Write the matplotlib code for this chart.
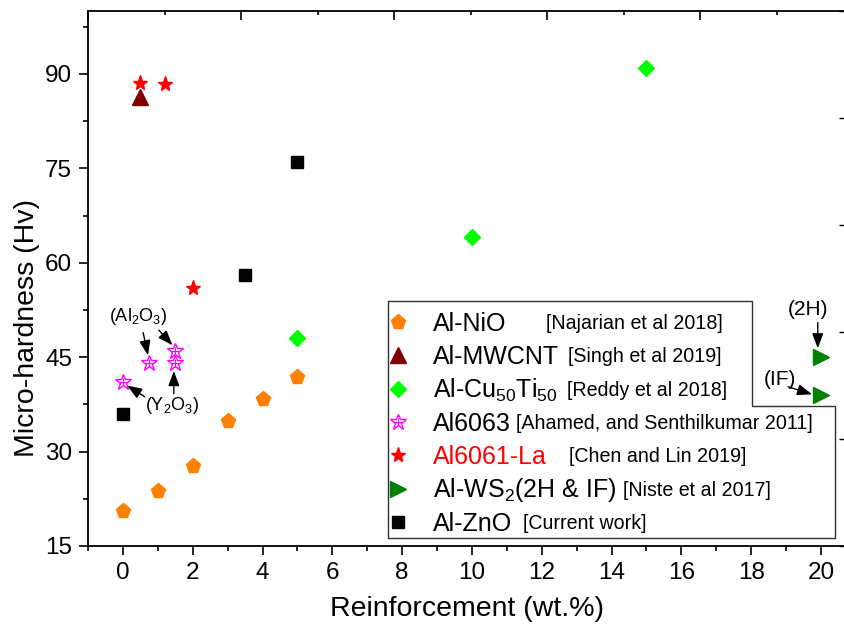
import matplotlib
matplotlib.use('Agg')
import matplotlib.pyplot as plt
from matplotlib.ticker import MultipleLocator, FixedLocator
from matplotlib.patches import Polygon

plt.rcParams['font.family'] = ['Liberation Sans', 'DejaVu Sans']
plt.rcParams['mathtext.fontset'] = 'custom'
plt.rcParams['mathtext.rm'] = 'Liberation Sans'
plt.rcParams['mathtext.it'] = 'Liberation Sans:italic'
plt.rcParams['mathtext.bf'] = 'Liberation Sans:bold'
plt.rcParams['mathtext.default'] = 'regular'

# ---------------- data ----------------
nio_x = [0, 1, 2, 3, 4, 5]
nio_y = [20.6, 23.7, 27.7, 34.9, 38.4, 41.8]
mwcnt_x = [0.5]
mwcnt_y = [86.3]
cuti_x = [5, 10, 15]
cuti_y = [48.1, 64.1, 91.0]
al6063_x = [0, 0.75, 1.5, 1.5]
al6063_y = [41.0, 44.0, 44.0, 46.0]
la_x = [0.5, 1.2, 2]
la_y = [88.5, 88.4, 56.0]
ws2_x = [20, 20]
ws2_y = [45.0, 39.0]
zno_x = [0, 3.5, 5]
zno_y = [36.0, 58.0, 76.0]

series_names = ['Al-NiO', 'Al-MWCNT', 'Al-Cu$_{50}$Ti$_{50}$', 'Al6063',
                'Al6061-La', 'Al-WS$_2$(2H & IF)', 'Al-ZnO']
citations = ['[Najarian et al 2018]', '[Singh et al 2019]', '[Reddy et al 2018]',
             '[Ahamed, and Senthilkumar 2011]', '[Chen and Lin 2019]',
             '[Niste et al 2017]', '[Current work]']
x_ticks = [0, 2, 4, 6, 8, 10, 12, 14, 16, 18, 20]
y_ticks = [15, 30, 45, 60, 75, 90]
x_label = 'Reinforcement (wt.%)'
y_label = 'Micro-hardness (Hv)'

# ---------------- styles ----------------
styles = [
    dict(marker='p', color='#FF8000', ms=11, mec='#FF8000'),
    dict(marker='^', color='#800000', ms=11, mec='#800000'),
    dict(marker='D', color='#00FF00', ms=8, mec='#00FF00'),
    dict(marker='*', color='#FF00FF', ms=12, mfc='none', mec='#FF00FF', mew=1.0),
    dict(marker='*', color='#FF0000', ms=11, mec='#FF0000'),
    dict(marker='>', color='#008000', ms=11, mec='#008000'),
    dict(marker='s', color='#000000', ms=8, mec='#000000'),
]
label_colors = ['black', 'black', 'black', 'black', '#FF0000', 'black', 'black']
series_x = [nio_x, mwcnt_x, cuti_x, al6063_x, la_x, ws2_x, zno_x]
series_y = [nio_y, mwcnt_y, cuti_y, al6063_y, la_y, ws2_y, zno_y]

W, H = 844, 628
L, R, T, B = 88, 846, 11, 546          # axes box in pixels
px_per_x = 34.9

fig = plt.figure(figsize=(W / 100, H / 100), dpi=100)
ax = fig.add_axes([L / W, 1 - B / H, (R - L) / W, (B - T) / H])
ax.set_xlim(-1, -1 + (R - L) / px_per_x)
ax.set_ylim(15, 100)

for xs, ys, st in zip(series_x, series_y, styles):
    ax.plot(xs, ys, linestyle='none', zorder=3, **st)
# inner cross of the open star symbol
ax.plot(al6063_x, al6063_y, linestyle='none', marker='+', ms=6, mew=0.8,
        color='#FF00FF', zorder=3)

ax.xaxis.set_major_locator(FixedLocator(x_ticks))
ax.xaxis.set_minor_locator(MultipleLocator(1))
ax.yaxis.set_major_locator(FixedLocator(y_ticks))
ax.yaxis.set_minor_locator(MultipleLocator(7.5))
ax.tick_params(which='major', direction='out', length=6.5, width=1.2,
               labelsize=17.5, top=False, right=False)
ax.tick_params(which='minor', direction='out', length=3.5, width=1.2,
               top=False, right=False)
ax.tick_params(axis='x', which='major', pad=5)
ax.tick_params(axis='y', which='major', pad=5)
for sp in ax.spines.values():
    sp.set_linewidth(1.3)

# top axis ticks (inward, separate scale)
axt = ax.twiny()
axt.set_xlim(0, (R - L) / 153)
axt.xaxis.set_major_locator(MultipleLocator(1))
axt.xaxis.set_minor_locator(MultipleLocator(0.5))
axt.tick_params(axis='x', which='major', direction='in', length=6.5, width=1.2,
                labeltop=False, labelbottom=False, top=True, bottom=False)
axt.tick_params(axis='x', which='minor', direction='in', length=3, width=1.2,
                top=True, bottom=False)
for sp in axt.spines.values():
    sp.set_visible(False)

# right axis ticks (inward)
axr = ax.twinx()
axr.set_ylim(0, 5)
axr.yaxis.set_major_locator(MultipleLocator(1))
axr.tick_params(axis='y', which='major', direction='in', length=5, width=1.0,
                labelright=False, right=True, left=False)
for sp in axr.spines.values():
    sp.set_visible(False)

ax.set_xlabel(x_label, fontsize=20.5)
ax.xaxis.set_label_coords((467 - L) / (R - L), (B - 609) / (B - T))
ax.xaxis.label.set_va('center')
ax.set_ylabel(y_label, fontsize=20.5)
ax.yaxis.set_label_coords((27 - L) / (R - L), (B - 328) / (B - T))
ax.yaxis.label.set_va('center')

# annotations
ann_texts = [('(Al$_2$O$_3$)', 0.43, 51.4, 13), ('(Y$_2$O$_3$)', 1.41, 37.4, 13),
             ('(2H)', 19.63, 52.5, 15), ('(IF)', 18.83, 41.4, 15)]
for s, x, y, fs in ann_texts:
    ax.text(x, y, s, fontsize=fs, ha='center', va='center', zorder=4)
arrows = [((0.58, 48.9), (0.72, 45.3)), ((1.03, 49.3), (1.42, 46.9)),
          ((0.63, 38.7), (0.12, 40.5)), ((1.46, 39.2), (1.46, 42.8)),
          ((19.91, 50.5), (19.91, 46.4)), ((19.06, 40.3), (19.75, 39.1))]
for tail, tip in arrows:
    ax.annotate('', xy=tip, xytext=tail,
                arrowprops=dict(arrowstyle='-|>,head_length=0.75,head_width=0.28',
                                mutation_scale=12, color='black', lw=1,
                                shrinkA=0, shrinkB=0), zorder=4)

# legend drawn in pixel space
ov = fig.add_axes([0, 0, 1, 1])
ov.set_xlim(0, W)
ov.set_ylim(H, 0)
ov.set_axis_off()
ov.patch.set_visible(False)
box = Polygon([(388, 301), (752, 301), (752, 406), (835, 406), (835, 538), (388, 538)],
              closed=True, fill=False, edgecolor='#303030', lw=1.0)
ov.add_patch(box)
row0, row_step = 322, 33.3
label_x = 433
cite_x = [546, 568, 567, 516, 569, 623, 523]
lab_fs, cite_fs = 18, 14.1
for i, (name, cite, st) in enumerate(zip(series_names, citations, styles)):
    yy = row0 + i * row_step
    ov.plot([398], [yy], linestyle='none', **st)
    if i == 3:
        ov.plot([398], [yy], linestyle='none', marker='+', ms=6, mew=0.8, color='#FF00FF')
    ov.text(label_x, yy + 0.716 * lab_fs * 1.389 / 2, name, fontsize=lab_fs,
            color=label_colors[i], ha='left', va='baseline')
    ov.text(cite_x[i], yy + 0.716 * cite_fs * 1.389 / 2, cite, fontsize=cite_fs,
            ha='left', va='baseline')

fig.savefig('out.png', dpi=100)
